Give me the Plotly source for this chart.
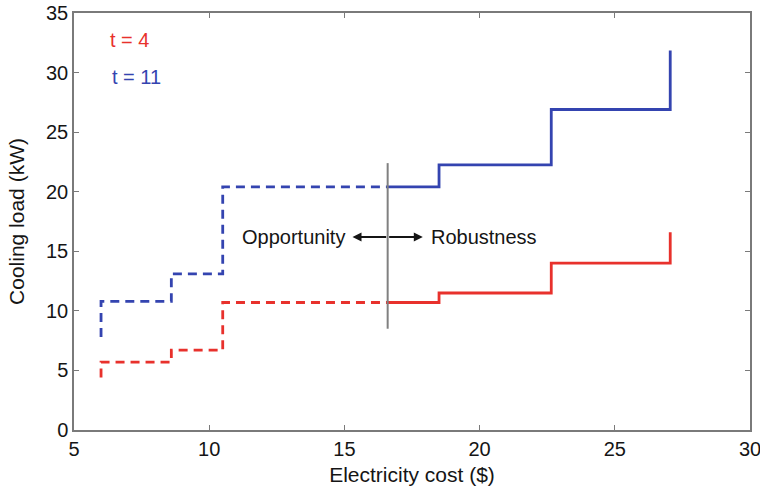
import plotly.graph_objects as go

# Step profiles of cooling load vs electricity cost
red_dash_x = [6.0, 6.0, 8.6, 10.5, 16.6]
red_dash_y = [4.4, 5.7, 6.7, 10.7, 10.7]
red_solid_x = [16.6, 18.5, 22.65, 27.05]
red_solid_y = [10.7, 11.5, 14.0, 16.6]

blue_dash_x = [6.0, 6.0, 8.6, 10.5, 16.6]
blue_dash_y = [7.8, 10.8, 13.1, 20.4, 20.4]
blue_solid_x = [16.6, 18.5, 22.65, 27.05]
blue_solid_y = [20.4, 22.25, 26.9, 31.85]

divider_x = 16.6
divider_y = [8.5, 22.4]

x_ticks = [5, 10, 15, 20, 25, 30]
y_ticks = [0, 5, 10, 15, 20, 25, 30, 35]

RED = "#e8312c"
BLUE = "#3444b0"
INK = "#151515"
FONT = "Liberation Sans, Arial, sans-serif"

fig = go.Figure()

for xs, ys, col, dash in [
    (red_dash_x, red_dash_y, RED, "9px,6px"),
    (red_solid_x, red_solid_y, RED, "solid"),
    (blue_dash_x, blue_dash_y, BLUE, "9px,6px"),
    (blue_solid_x, blue_solid_y, BLUE, "solid"),
]:
    fig.add_trace(go.Scatter(
        x=xs, y=ys, mode="lines", line_shape="hv",
        line=dict(color=col, width=2.8, dash=dash),
        showlegend=False, hoverinfo="skip",
    ))

# Vertical divider between opportunity and robustness regions
fig.add_trace(go.Scatter(
    x=[divider_x, divider_x], y=divider_y, mode="lines",
    line=dict(color="#808080", width=2), showlegend=False, hoverinfo="skip",
))

# Double-headed arrow
arrow_y = 16.2
for x_tip in (15.3, 17.9):
    fig.add_annotation(
        x=x_tip, y=arrow_y, ax=divider_x, ay=arrow_y,
        xref="x", yref="y", axref="x", ayref="y",
        text="", showarrow=True, arrowhead=2, arrowsize=1.0,
        arrowwidth=1.8, arrowcolor=INK,
    )

fig.add_annotation(x=15.1, y=arrow_y, xref="x", yref="y", text="Opportunity",
                   showarrow=False, xanchor="right",
                   font=dict(family=FONT, size=20, color=INK))
fig.add_annotation(x=18.13, y=arrow_y, xref="x", yref="y", text="Robustness",
                   showarrow=False, xanchor="left",
                   font=dict(family=FONT, size=20, color=INK))

fig.add_annotation(x=6.25, y=32.75, xref="x", yref="y", text="t = 4",
                   showarrow=False, xanchor="left",
                   font=dict(family=FONT, size=20, color=RED))
fig.add_annotation(x=6.33, y=29.6, xref="x", yref="y", text="t = 11",
                   showarrow=False, xanchor="left",
                   font=dict(family=FONT, size=20, color=BLUE))

axis_common = dict(
    showline=True, linecolor="#7a7a7a", linewidth=1.5, mirror="ticks",
    ticks="inside", ticklen=5, tickcolor="#7a7a7a", tickwidth=1.2,
    showgrid=False, zeroline=False, automargin=False,
    ticklabeloverflow="allow",
    tickfont=dict(family=FONT, size=20, color=INK),
)

fig.update_xaxes(range=[5, 30], tickvals=x_ticks,
                 title=dict(text="Electricity cost ($)", standoff=9,
                            font=dict(family=FONT, size=21, color=INK)),
                 **axis_common)
fig.update_yaxes(range=[0, 35], tickvals=y_ticks,
                 title=dict(text="Cooling load (kW)", standoff=16,
                            font=dict(family=FONT, size=21, color=INK)),
                 **axis_common)

fig.update_layout(
    width=760, height=491,
    margin=dict(l=74, r=10, t=13, b=61, autoexpand=False),
    plot_bgcolor="white", paper_bgcolor="white",
)

fig.write_html("out.html")
